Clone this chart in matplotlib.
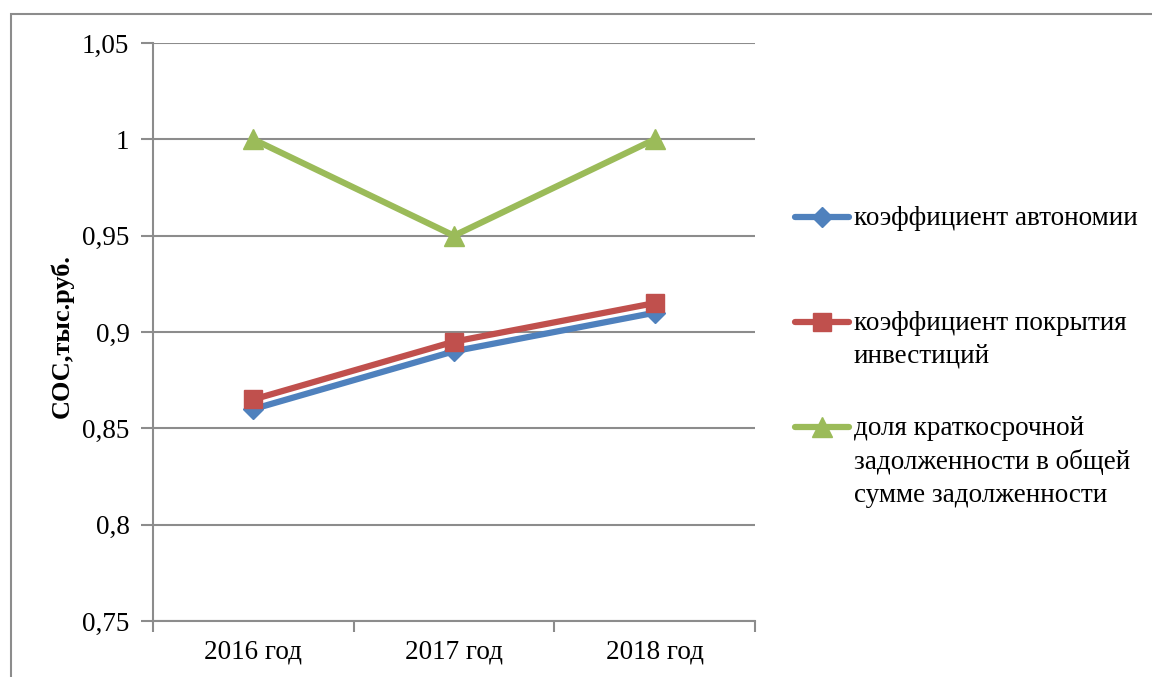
import matplotlib
matplotlib.use("Agg")
import matplotlib.pyplot as plt
from matplotlib.lines import Line2D
from matplotlib.patches import Rectangle
from matplotlib.ticker import FixedLocator, FuncFormatter

years = ["2016 год", "2017 год", "2018 год"]
autonomy = [0.86, 0.89, 0.91]
investment_cover = [0.865, 0.895, 0.915]
short_debt_share = [1.0, 0.95, 1.0]

series_names = [
    "коэффициент автономии",
    "коэффициент покрытия\nинвестиций",
    "доля краткосрочной\nзадолженности в общей\nсумме задолженности",
]
colors = ["#4F81BD", "#C0504D", "#9BBB59"]
markers = ["D", "s", "^"]
marker_sizes = [10, 13, 15]
y_ticks = [0.75, 0.8, 0.85, 0.9, 0.95, 1.0, 1.05]

plt.rcParams["font.family"] = ["Liberation Serif", "DejaVu Serif"]

W, H = 1152, 677
fig = plt.figure(figsize=(W / 100, H / 100), dpi=100)

# outer chart frame
fig.add_artist(Rectangle((10.5 / W, -0.1), 1.2, (H - 13.5) / H + 0.1,
                         transform=fig.transFigure, fill=False,
                         edgecolor="#8c8c8c", linewidth=1.5))

left, right, top, bottom = 153, 755, 43, 621
ax = fig.add_axes([left / W, 1 - bottom / H, (right - left) / W, (bottom - top) / H])

x = list(range(len(years)))
for vals, c, m, ms in zip([autonomy, investment_cover, short_debt_share], colors, markers, marker_sizes):
    ax.plot(x, vals, color=c, linewidth=4.5, marker=m, markersize=ms,
            markerfacecolor=c, markeredgecolor=c, zorder=3, solid_capstyle="round")

ax.set_xlim(-0.5, len(years) - 0.5)
ax.set_ylim(0.75, 1.05)
ax.set_yticks(y_ticks)
ax.yaxis.set_major_formatter(FuncFormatter(lambda v, p: f"{v:.2f}".rstrip("0").rstrip(".").replace(".", ",")))
ax.set_xticks(x)
ax.set_xticklabels(years)
ax.xaxis.set_minor_locator(FixedLocator([-0.5, 0.5, 1.5, 2.5]))
ax.tick_params(axis="x", which="major", length=0, labelsize=19.5, pad=13)
ax.tick_params(axis="x", which="minor", length=8, width=1.5, color="#8c8c8c", direction="out")
ax.tick_params(axis="y", length=9, width=1.5, color="#8c8c8c", labelsize=19.5, pad=8)
ax.grid(axis="y", color="#8c8c8c", linewidth=1.5, zorder=0)
for side in ["top", "right"]:
    ax.spines[side].set_visible(False)
for side in ["left", "bottom"]:
    ax.spines[side].set_color("#8c8c8c")
    ax.spines[side].set_linewidth(1.5)

fig.text(62 / W, 1 - 336 / H, "СОС,тыс.руб.", rotation=90, fontsize=19,
         fontweight="bold", ha="center", va="center")

# legend drawn beside the plot, handles aligned to the first text line
legend_rows = [217, 322, 427]
for name, c, m, ms, yy in zip(series_names, colors, markers, marker_sizes, legend_rows):
    yf = 1 - yy / H
    fig.add_artist(Line2D([795 / W, 849 / W], [yf, yf], transform=fig.transFigure,
                          color=c, linewidth=4.5, solid_capstyle="round"))
    fig.add_artist(Line2D([822 / W], [yf], transform=fig.transFigure, color=c,
                          marker=m, markersize=ms, markerfacecolor=c, markeredgecolor=c))
    fig.text(854 / W, yf + 11 / H, name, fontsize=19.5, ha="left", va="top",
             linespacing=1.42)

fig.savefig("out.png", dpi=100)
